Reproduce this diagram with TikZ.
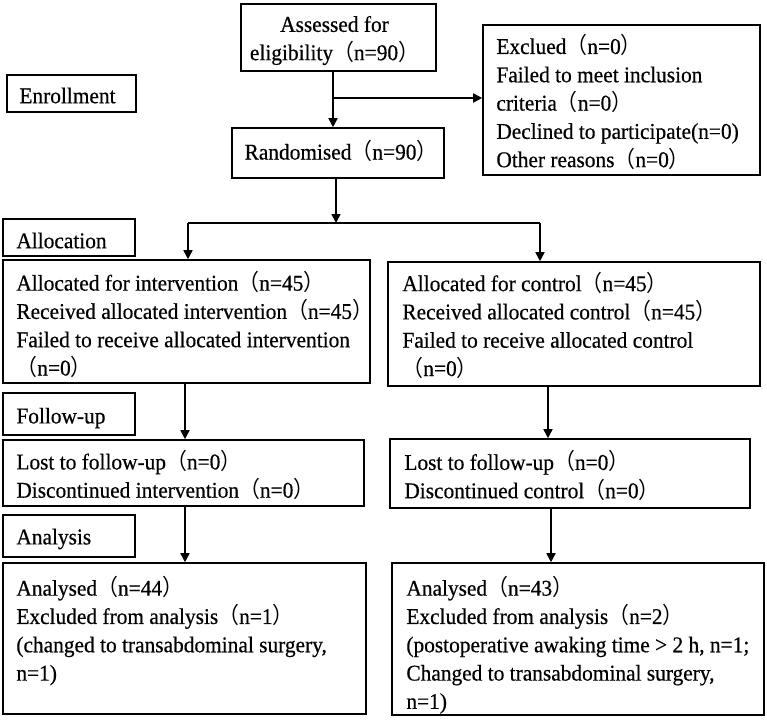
\documentclass[tikz,border=0pt]{standalone}
\usepackage{fontspec}
\setmainfont{Liberation Serif}[FakeStretch=0.95,FakeBold=0.5]
\newfontfamily\cjk{Noto Sans CJK SC}[FakeStretch=0.93]
\newcommand{\lp}{{\cjk （}}
\newcommand{\rp}{{\cjk ）}}
\usetikzlibrary{arrows.meta}
\begin{document}
\begin{tikzpicture}[x=1pt,y=-1pt,
  every node/.style={font=\fontsize{22.5}{28.3}\selectfont},
  frame/.style={draw, line width=1.6pt, inner sep=0pt},
  txt/.style={inner sep=0pt, align=left, anchor=west},
  ctxt/.style={inner sep=0pt, align=center},
  conn/.style={line width=1.6pt},
  arr/.style={line width=1.6pt, -{Triangle[length=9pt,width=9pt]}}]
\useasboundingbox (0,0) rectangle (767,720);
\fill[white] (0,0) rectangle (767,720);

% stage labels
\node[frame, minimum width=129pt, minimum height=37pt] (enroll) at (71.5,93.5) {};
\node[txt] (enrollT) at ([xshift=13pt,yshift=-2pt]enroll.west) {Enrollment};
\node[frame, minimum width=132pt, minimum height=37pt] (alloclab) at (69,237.5) {};
\node[txt] (alloclabT) at ([xshift=14pt,yshift=-3pt]alloclab.west) {Allocation};
\node[frame, minimum width=132pt, minimum height=42pt] (followlab) at (69,414) {};
\node[txt] (followlabT) at ([xshift=14pt,yshift=-4pt]followlab.west) {Follow-up};
\node[frame, minimum width=132pt, minimum height=42pt] (anlab) at (69,536) {};
\node[txt] (anlabT) at ([xshift=14pt,yshift=-3pt]anlab.west) {Analysis};

% main boxes
\node[frame, minimum width=195pt, minimum height=67pt] (assess) at (338.5,37.5) {};
\node[ctxt] (assessT) at ([xshift=-4pt,yshift=-3pt]assess.center) {Assessed for\\eligibility\lp n=90\rp};

\node[frame, minimum width=277pt, minimum height=150pt] (excl) at (621.5,100) {};
\node[txt] (exclT) at ([xshift=14pt,yshift=-2pt]excl.west)
  {Exclued\lp n=0\rp\\Failed to meet inclusion\\criteria\lp n=0\rp\\Declined to participate(n=0)\\Other reasons\lp n=0\rp};

\node[frame, minimum width=212pt, minimum height=50pt] (rand) at (338,153) {};
\node[ctxt] (randT) at ([xshift=3pt,yshift=2pt]rand.center) {Randomised\lp n=90\rp};

\node[frame, minimum width=367pt, minimum height=123pt] (allocL) at (186.5,321.5) {};
\node[txt] (allocLT) at ([xshift=14pt,yshift=-3pt]allocL.west)
  {Allocated for intervention\lp n=45\rp\\Received allocated intervention\lp n=45\rp\\Failed to receive allocated intervention\\\lp n=0\rp};
\node[frame, minimum width=372pt, minimum height=124pt] (allocR) at (574,324) {};
\node[txt] (allocRT) at ([xshift=15pt,yshift=-1pt]allocR.west)
  {Allocated for control\lp n=45\rp\\Received allocated control\lp n=45\rp\\Failed to receive allocated control\\\lp n=0\rp};

\node[frame, minimum width=361pt, minimum height=66pt] (followL) at (183.5,473) {};
\node[txt] (followLT) at ([xshift=14pt,yshift=-2pt]followL.west)
  {Lost to follow-up\lp n=0\rp\\Discontinued intervention\lp n=0\rp};
\node[frame, minimum width=360pt, minimum height=69pt] (followR) at (570,473.5) {};
\node[txt] (followRT) at ([xshift=15pt,yshift=-2pt]followR.west)
  {Lost to follow-up\lp n=0\rp\\Discontinued control\lp n=0\rp};

\node[frame, minimum width=363pt, minimum height=151pt] (anL) at (184.5,638.5) {};
\node[txt, anchor=north west] (anLT) at ([xshift=14pt,yshift=-14pt]anL.north west)
  {Analysed\lp n=44\rp\\Excluded from analysis\lp n=1\rp\\(changed to transabdominal surgery,\\n=1)};
\node[frame, minimum width=372pt, minimum height=152pt] (anR) at (578,639) {};
\node[txt, anchor=north west] (anRT) at ([xshift=15pt,yshift=-14pt]anR.north west)
  {Analysed\lp n=43\rp\\Excluded from analysis\lp n=2\rp\\(postoperative awaking time > 2 h, n=1;\\Changed to transabdominal surgery,\\n=1)};

% connectors
\coordinate (b1) at (333,98);
\coordinate (j) at (336,223);
\coordinate (jl) at (188,223);
\coordinate (jr) at (540,223);
\draw[arr] (assess.south -| b1) -- (rand.north -| b1);
\draw[arr] (b1) -- (b1 -| excl.west);
\draw[arr] (rand.south -| j) -- (j);
\draw[conn] (jl) -- (jr);
\draw[arr] (jl) -- (allocL.north -| jl);
\draw[arr] (jr) -- (allocR.north -| jr);
\coordinate (c1) at (185,0);
\coordinate (c2) at (548,0);
\coordinate (c3) at (551,0);
\draw[arr] (allocL.south -| c1) -- (followL.north -| c1);
\draw[arr] (allocR.south -| c2) -- (followR.north -| c2);
\draw[arr] (followL.south -| c1) -- (anL.north -| c1);
\draw[arr] (followR.south -| c3) -- (anR.north -| c3);
\end{tikzpicture}
\end{document}
